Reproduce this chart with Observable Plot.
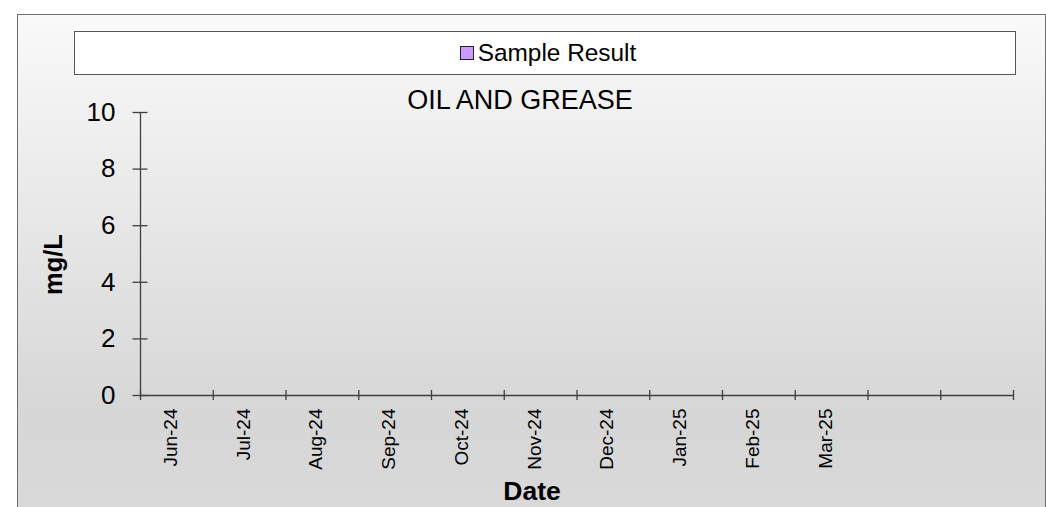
<!DOCTYPE html>
<html><head><meta charset="utf-8">
<script src="https://cdn.jsdelivr.net/npm/d3@7"></script>
<script src="https://cdn.jsdelivr.net/npm/@observablehq/plot@0.6"></script>
<style>
html,body{margin:0;padding:0;background:#fff;overflow:hidden;}
#wrap{position:relative;width:1046px;height:507px;overflow:hidden;font-family:"Liberation Sans",Arial,Helvetica,sans-serif;}
#frame{position:absolute;box-sizing:border-box;left:17px;top:14px;width:1029px;height:540px;border:1.5px solid #6e6e6e;background:linear-gradient(to bottom,#f9f9f9 0px,#d6d6d6 400px,#dadada 540px);}
#legend{position:absolute;box-sizing:border-box;left:74px;top:31px;width:942px;height:44px;padding-left:6px;border:1.5px solid #555;background:#fff;display:flex;align-items:center;justify-content:center;font-size:24.4px;color:#000;}
#legend .sw{box-sizing:border-box;width:14px;height:14px;background:#cc99ff;border:1.5px solid #222;margin-right:4px;}
#chart{position:absolute;left:0;top:0;}
</style></head>
<body>
<div id="wrap">
  <div id="frame"></div>
  <div id="legend"></div>
  <div id="chart"></div>
</div>
<script>
// ---- data ----
const months = ["Jun-24","Jul-24","Aug-24","Sep-24","Oct-24","Nov-24","Dec-24","Jan-25","Feb-25","Mar-25","Apr-25","May-25"];
const tickLabels = ["Jun-24","Jul-24","Aug-24","Sep-24","Oct-24","Nov-24","Dec-24","Jan-25","Feb-25","Mar-25","",""];
const sampleResult = [null,null,null,null,null,null,null,null,null,null,null,null];
const yTicks = [0,2,4,6,8,10];
const yDomain = [0,10];
const seriesName = "Sample Result";
const chartTitle = "OIL AND GREASE";
const yLabel = "mg/L";
const xLabel = "Date";

// ---- legend ----
const leg = document.getElementById("legend");
const sw = document.createElement("span"); sw.className = "sw";
const lt = document.createElement("span"); lt.textContent = seriesName;
leg.appendChild(sw); leg.appendChild(lt);

// ---- chart ----
const idx = d3.range(months.length);
const boundaries = d3.range(months.length + 1);
const points = idx.filter(i => sampleResult[i] != null);
const axisColor = "#404040";
const font = '"Liberation Sans", Arial, Helvetica, sans-serif';

const chart = Plot.plot({
  width: 1046,
  height: 507,
  marginLeft: 140,
  marginRight: 33,
  marginTop: 112,
  marginBottom: 112,
  style: {background: "transparent", fontFamily: font, color: "#000", overflow: "visible"},
  x: {domain: [0, months.length]},
  y: {domain: yDomain},
  marks: [
    Plot.ruleY([0], {stroke: axisColor, strokeWidth: 1.3}),
    Plot.ruleX([0], {stroke: axisColor, strokeWidth: 1.3}),
    Plot.axisX({ticks: boundaries, tickSize: 10, dy: -5, fill: "none", label: null, stroke: axisColor, strokeWidth: 1.3}),
    Plot.axisY({ticks: yTicks, tickSize: 15, dx: 7.5, fill: "none", label: null, stroke: axisColor, strokeWidth: 1.3}),
    Plot.axisY({ticks: yTicks, tickSize: 0, tickPadding: 25, fontSize: 26, label: null, fill: "#000"}),
    Plot.text(idx, {x: i => i + 0.5, text: i => tickLabels[i], frameAnchor: "bottom", rotate: -90, textAnchor: "end", dy: 13, fontSize: 19, fill: "#000"}),
    Plot.dot(points, {x: i => i + 0.5, y: i => sampleResult[i], symbol: "square", r: 6, fill: "#cc99ff", stroke: "#222"}),
    Plot.text([chartTitle], {frameAnchor: "top", dx: -57, dy: -23, fontSize: 27, fill: "#000"}),
    Plot.text([yLabel], {frameAnchor: "left", rotate: -90, dx: -87, dy: 41, fontSize: 25.5, fontWeight: "bold", fill: "#000"}),
    Plot.text([xLabel], {frameAnchor: "bottom", dx: -45, dy: 104, fontSize: 26.5, fontWeight: "bold", fill: "#000"})
  ]
});
document.getElementById("chart").appendChild(chart);
</script>
</body></html>
